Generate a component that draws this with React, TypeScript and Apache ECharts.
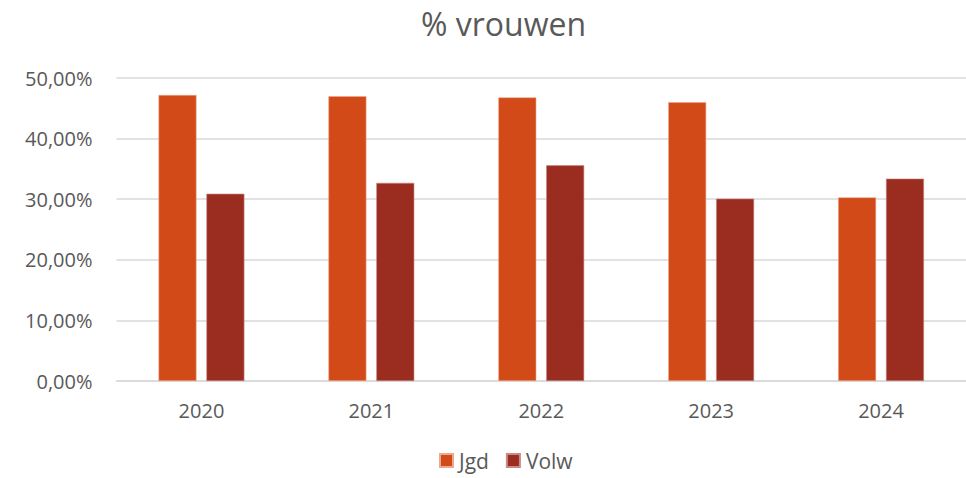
import React, { useEffect, useRef } from "react";
import * as echarts from "echarts";

const years = ["2020", "2021", "2022", "2023", "2024"];
const jgd = [47.2, 47.0, 46.8, 46.0, 30.3];
const volw = [30.9, 32.7, 35.6, 30.1, 33.4];
const titleText = "% vrouwen";
const seriesNames = ["Jgd", "Volw"];

const FONT = "'Open Sans', 'Noto Sans', sans-serif";

export default function App() {
  const ref = useRef<HTMLDivElement>(null);
  useEffect(() => {
    if (!ref.current) return;
    const chart = echarts.init(ref.current, null, { renderer: "svg" });
    chart.setOption({
      animation: false,
      backgroundColor: "#ffffff",
      title: {
        text: titleText,
        left: 416,
        top: 2,
        textStyle: { fontFamily: FONT, fontSize: 32, fontWeight: "normal", color: "#595959" },
      },
      legend: {
        top: 448,
        left: 437,
        icon: "rect",
        itemWidth: 13,
        itemHeight: 13,
        itemGap: 17,
        padding: [2, 2, 2, 2],
        textStyle: { fontFamily: FONT, fontSize: 21, color: "#595959", padding: [0, 0, 0, 1] },
        data: seriesNames,
      },
      grid: { left: 116.5, top: 78, width: 854, height: 303, containLabel: false },
      xAxis: {
        type: "category",
        data: years,
        axisLine: { lineStyle: { color: "#d9d9d9", width: 1.5 } },
        axisTick: { show: false },
        axisLabel: { fontFamily: FONT, fontSize: 20, color: "#595959", margin: 19 },
      },
      yAxis: {
        type: "value",
        min: 0,
        max: 50,
        interval: 10,
        axisLine: { show: false },
        axisTick: { show: false },
        splitLine: { lineStyle: { color: "#d9d9d9", width: 1.5 } },
        axisLabel: {
          fontFamily: FONT,
          fontSize: 20,
          color: "#595959",
          margin: 24,
          formatter: (v: number) => v.toFixed(2).replace(".", ",") + "%",
        },
      },
      series: [
        {
          name: seriesNames[0],
          type: "bar",
          data: jgd,
          barWidth: 38,
          barGap: "26%",
          itemStyle: { color: "#D24A18", borderColor: "#EBA98F", borderWidth: 0.6 },
        },
        {
          name: seriesNames[1],
          type: "bar",
          data: volw,
          barWidth: 38,
          barGap: "26%",
          itemStyle: { color: "#9B2D20", borderColor: "#C98A82", borderWidth: 0.6 },
        },
      ],
    });
    return () => chart.dispose();
  }, []);
  return (
    <div
      ref={ref}
      style={{ position: "absolute", left: 0, top: 0, width: 966, height: 478 }}
    />
  );
}
